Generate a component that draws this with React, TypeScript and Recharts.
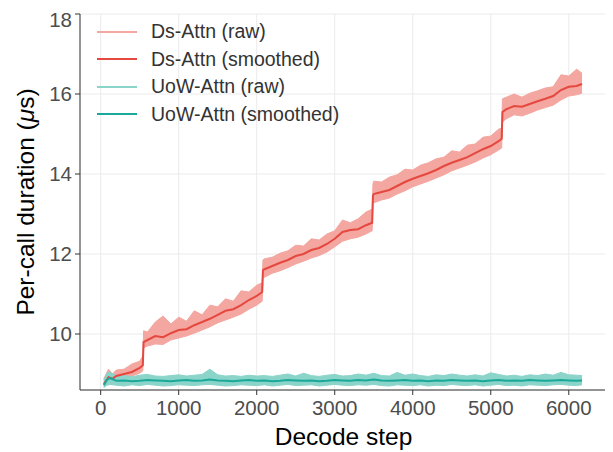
import { ComposedChart, Area, Line, XAxis, YAxis, CartesianGrid } from 'recharts';

const dsSteps = [
  40, 100, 150, 200, 300, 400, 500, 540,
  550, 600, 700, 800, 900, 1000, 1100, 1200, 1300, 1400, 1500, 1600, 1700, 1800, 1900, 2000, 2070,
  2080, 2100, 2200, 2300, 2400, 2500, 2600, 2700, 2800, 2900, 3000, 3100, 3200, 3300, 3400, 3480,
  3490, 3500, 3600, 3700, 3800, 3900, 4000, 4100, 4200, 4300, 4400, 4500, 4600, 4700, 4800, 4900, 5000, 5100, 5140,
  5150, 5200, 5300, 5400, 5500, 5600, 5700, 5800, 5900, 6000, 6100, 6170,
];
const dsSmooth = [
  8.75, 8.92, 8.88, 8.95, 9.0, 9.05, 9.15, 9.22,
  9.8, 9.85, 9.95, 9.92, 10.02, 10.1, 10.12, 10.22, 10.3, 10.38, 10.48, 10.58, 10.62, 10.72, 10.85, 10.95, 11.05,
  11.6, 11.62, 11.7, 11.78, 11.85, 11.95, 12.0, 12.1, 12.15, 12.25, 12.38, 12.55, 12.6, 12.62, 12.72, 12.78,
  13.45, 13.5, 13.55, 13.6, 13.7, 13.8, 13.88, 13.95, 14.02, 14.1, 14.2, 14.28, 14.35, 14.42, 14.52, 14.62, 14.7, 14.82, 14.88,
  15.55, 15.62, 15.7, 15.68, 15.75, 15.82, 15.88, 15.95, 16.1, 16.18, 16.2, 16.25,
];
const dsRawLow = [
  8.68, 8.8, 8.8, 8.86, 8.9, 8.95, 9.02, 9.08,
  9.65, 9.7, 9.75, 9.74, 9.85, 9.9, 9.95, 10.02, 10.1, 10.18, 10.28, 10.35, 10.42, 10.5, 10.62, 10.72, 10.82,
  11.4, 11.42, 11.52, 11.58, 11.66, 11.75, 11.82, 11.9, 11.96, 12.05, 12.18, 12.32, 12.38, 12.42, 12.5, 12.58,
  13.25, 13.28, 13.35, 13.4, 13.5, 13.58, 13.68, 13.75, 13.82, 13.9, 13.98, 14.08, 14.15, 14.22, 14.3, 14.4, 14.48, 14.6, 14.65,
  15.3, 15.38, 15.48, 15.45, 15.52, 15.6, 15.66, 15.72, 15.85, 15.95, 15.98, 16.02,
];
const dsRawHigh = [
  8.88, 9.12, 9.0, 9.1, 9.12, 9.25, 9.32, 9.45,
  10.08, 10.05, 10.3, 10.45, 10.25, 10.42, 10.32, 10.58, 10.48, 10.72, 10.68, 10.88, 10.82, 11.08, 11.05, 11.22, 11.28,
  11.85, 11.88, 11.92, 12.02, 12.08, 12.22, 12.2, 12.38, 12.35, 12.5, 12.58, 12.85, 12.78, 12.88, 13.05, 13.12,
  13.75, 13.82, 13.8, 13.92, 13.98, 14.12, 14.1, 14.22, 14.28, 14.38, 14.42, 14.58, 14.55, 14.72, 14.75, 14.92, 14.95, 15.12, 15.15,
  15.88, 15.92, 16.0, 15.92, 16.02, 16.08, 16.15, 16.18, 16.48, 16.45, 16.62, 16.52,
];

const uowSteps = [
  40, 80, 120,
  200, 300, 400, 500, 600, 700, 800, 900, 1000, 1100,
  1200, 1300, 1400, 1500, 1600, 1700, 1800, 1900, 2000, 2100,
  2200, 2300, 2400, 2500, 2600, 2700, 2800, 2900, 3000, 3100,
  3200, 3300, 3400, 3500, 3600, 3700, 3800, 3900, 4000, 4100,
  4200, 4300, 4400, 4500, 4600, 4700, 4800, 4900, 5000, 5100,
  5200, 5300, 5400, 5500, 5600, 5700, 5800, 5900, 6000, 6100,
  6170,
];
const uowSmooth = [
  8.72, 8.85, 8.9,
  8.83, 8.84, 8.82, 8.83, 8.85, 8.84, 8.83, 8.82, 8.84, 8.85,
  8.83, 8.84, 8.86, 8.84, 8.83, 8.82, 8.84, 8.85, 8.83, 8.84,
  8.82, 8.83, 8.85, 8.84, 8.83, 8.84, 8.82, 8.83, 8.85, 8.84,
  8.83, 8.85, 8.84, 8.86, 8.84, 8.83, 8.84, 8.85, 8.83, 8.84,
  8.82, 8.84, 8.83, 8.85, 8.84, 8.83, 8.84, 8.82, 8.84, 8.85,
  8.83, 8.84, 8.83, 8.85, 8.84, 8.83, 8.84, 8.85, 8.84, 8.83,
  8.84,
];
const uowRawLow = [
  8.66, 8.72, 8.74,
  8.72, 8.7, 8.73, 8.71, 8.74, 8.72, 8.7, 8.71, 8.73, 8.72,
  8.71, 8.73, 8.74, 8.72, 8.7, 8.71, 8.73, 8.72, 8.71, 8.73,
  8.7, 8.72, 8.74, 8.71, 8.72, 8.73, 8.7, 8.72, 8.74, 8.72,
  8.71, 8.73, 8.72, 8.74, 8.71, 8.7, 8.73, 8.72, 8.71, 8.73,
  8.7, 8.72, 8.71, 8.74, 8.72, 8.71, 8.73, 8.7, 8.72, 8.74,
  8.71, 8.72, 8.7, 8.73, 8.72, 8.71, 8.73, 8.74, 8.72, 8.71,
  8.73,
];
const uowRawHigh = [
  8.85, 9.02, 9.05,
  8.95, 8.96, 8.93, 8.97, 8.99, 8.95, 8.94, 8.96, 8.98, 8.95,
  8.97, 8.99, 9.12, 8.98, 8.95, 8.96, 8.94, 8.97, 8.95, 8.96,
  8.94, 8.97, 9.0, 8.95, 9.02, 8.96, 8.94, 8.97, 8.99, 8.95,
  8.96, 9.0, 8.97, 9.02, 8.96, 8.95, 9.04, 8.97, 9.0, 8.96,
  8.94, 8.98, 8.96, 9.0, 8.97, 8.95, 8.98, 8.95, 9.03, 8.99,
  8.95, 8.97, 8.94, 8.98, 8.96, 9.0, 8.97, 9.04, 8.98, 8.97,
  8.96,
];

const xTicks = [0, 1000, 2000, 3000, 4000, 5000, 6000];
const yTicks = [10, 12, 14, 16, 18];

const legendItems = [
  { name: 'Ds-Attn (raw)', color: '#f4a6a0' },
  { name: 'Ds-Attn (smoothed)', color: '#e4483e' },
  { name: 'UoW-Attn (raw)', color: '#8ad4ca' },
  { name: 'UoW-Attn (smoothed)', color: '#1aa898' },
];

const dsRows = dsSteps.map((step, i) => ({
  step, sm: dsSmooth[i], raw: [dsRawLow[i], dsRawHigh[i]],
}));
const uowRows = uowSteps.map((step, i) => ({
  step, sm: uowSmooth[i], raw: [uowRawLow[i], uowRawHigh[i]],
}));

const FONT = '"Liberation Sans", Arial, sans-serif';

function YTitle(props: any) {
  const vb = props.viewBox || { x: 0, y: 0, width: 0, height: 0 };
  const x = vb.x + 17;
  const y = vb.y + vb.height / 2;
  return (
    <text x={x} y={y} transform={`rotate(-90 ${x} ${y})`} textAnchor="middle"
      dominantBaseline="central" fontSize={24.5} fill="#000" fontFamily={FONT}>
      Per-call duration (<tspan fontStyle="italic">μ</tspan>s)
    </text>
  );
}

function XTitle(props: any) {
  const vb = props.viewBox || { x: 0, y: 0, width: 0, height: 0 };
  return (
    <text x={vb.x + vb.width / 2} y={437} textAnchor="middle"
      fontSize={24.5} fill="#000" fontFamily={FONT}>
      Decode step
    </text>
  );
}

export default function App() {
  return (
    <div style={{ position: 'relative', width: 605, height: 444, fontFamily: FONT }}>
      <ComposedChart width={605} height={444} margin={{ top: 6, right: 6, left: 0, bottom: 0 }}>
        <CartesianGrid stroke="#ebebeb" strokeWidth={1} />
        <XAxis type="number" dataKey="step" domain={[-265, 6490]} ticks={xTicks}
          allowDataOverflow height={62} tickSize={5} tickMargin={5}
          stroke="#333" tick={{ fontSize: 20.5, fill: '#4d4d4d' }}
          label={<XTitle />} />
        <YAxis type="number" domain={[8.6, 18]} ticks={yTicks} allowDataOverflow
          width={72} tickSize={5} tickMargin={3}
          stroke="#333" tick={{ fontSize: 20.5, fill: '#4d4d4d' }}
          label={<YTitle />} />
        <Area data={dsRows} dataKey="raw" type="linear" fill="#f4a6a0" fillOpacity={1}
          stroke="#f4a6a0" strokeWidth={1} isAnimationActive={false} />
        <Line data={dsRows} dataKey="sm" type="linear" stroke="#e4483e" strokeWidth={2}
          dot={false} isAnimationActive={false} />
        <Area data={uowRows} dataKey="raw" type="linear" fill="#8ad4ca" fillOpacity={1}
          stroke="#8ad4ca" strokeWidth={1} isAnimationActive={false} />
        <Line data={uowRows} dataKey="sm" type="linear" stroke="#1aa898" strokeWidth={2}
          dot={false} isAnimationActive={false} />
      </ComposedChart>
      <div style={{ position: 'absolute', left: 81, top: 10, pointerEvents: 'none' }}>
        {legendItems.map((item) => (
          <div key={item.name} style={{ display: 'flex', alignItems: 'center', height: 27.5 }}>
            <div style={{ width: 40, height: 2, background: item.color, marginLeft: 8 }} />
            <span style={{ marginLeft: 14, fontSize: 19.5, color: '#333', whiteSpace: 'nowrap' }}>
              {item.name}
            </span>
          </div>
        ))}
      </div>
    </div>
  );
}
